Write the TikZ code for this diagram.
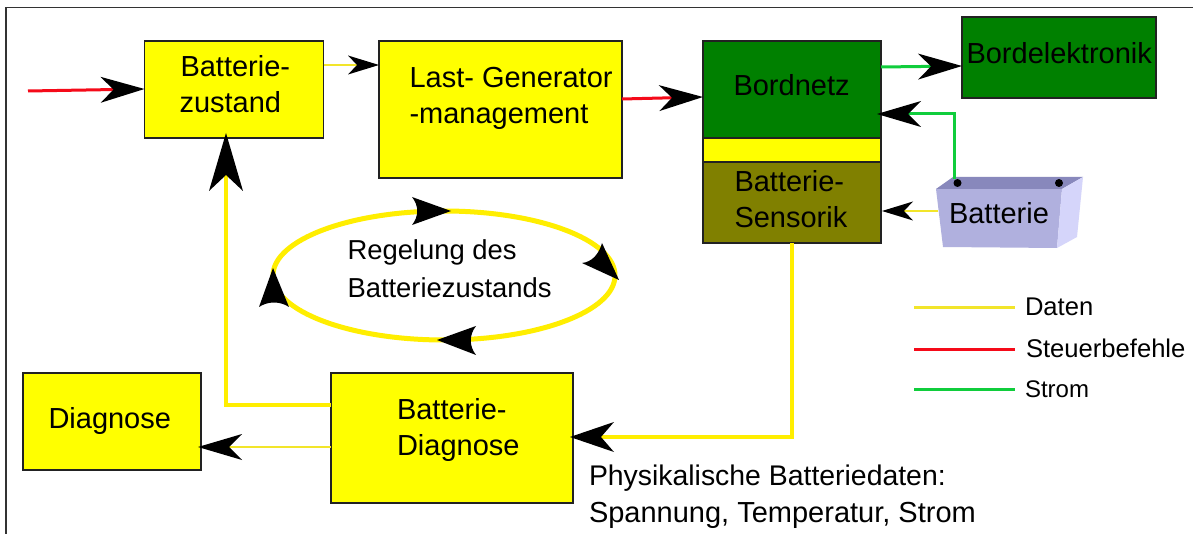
\documentclass[tikz,border=0pt]{standalone}
\usepackage{fontspec}
\setmainfont{Liberation Sans}
\usetikzlibrary{arrows.meta}
\definecolor{boxline}{RGB}{34,34,34}
\definecolor{boxyellow}{RGB}{255,255,0}
\definecolor{boxgreen}{RGB}{0,128,0}
\definecolor{boxolive}{RGB}{128,128,0}
\definecolor{dyellow}{RGB}{242,229,42}
\definecolor{syellow}{RGB}{255,238,0}
\definecolor{lred}{RGB}{245,10,25}
\definecolor{lgreen}{RGB}{16,205,60}
\definecolor{batfront}{RGB}{176,176,222}
\definecolor{battop}{RGB}{136,136,188}
\definecolor{batside}{RGB}{213,213,250}
\tikzset{
  x=1pt,y=-1pt,
  box/.style={draw=boxline,line width=1.4pt,inner sep=0pt,outer sep=0pt,anchor=north west},
  yellowbox/.style={box,fill=boxyellow},
  greenbox/.style={box,fill=boxgreen},
  olivebox/.style={box,fill=boxolive},
  txt/.style={anchor=base west,inner sep=0pt,outer sep=0pt,text=black,font=\fontsize{29}{29}\selectfont},
  midtxt/.style={txt,font=\fontsize{27.4}{27.4}\selectfont},
  smalltxt/.style={txt,font=\fontsize{25.6}{25.6}\selectfont},
  tiphuge/.tip={Stealth[length=58pt,width=34pt,inset=16pt,color=black,line width=0pt]},
  tipbig/.tip={Stealth[length=44pt,width=26pt,inset=13pt,color=black,line width=0pt]},
  tipsmall/.tip={Stealth[length=31pt,width=19pt,inset=9pt,color=black,line width=0pt]},
  datathin/.style={draw=dyellow,line width=2.3pt},
  datathick/.style={draw=syellow,line width=3.8pt},
  redline/.style={draw=lred,line width=3pt},
  greenline/.style={draw=lgreen,line width=3pt},
  loophead/.style={fill=black,draw=none},
}
\begin{document}
\begin{tikzpicture}
\useasboundingbox (0,0) rectangle (1193,534);
\fill[white] (0,0) rectangle (1193,534);
\draw[draw=black!80,line width=1.4pt] (6,534) -- (6,7.5) -- (1193,7.5);

% boxes
\node[yellowbox,minimum width=179pt,minimum height=97pt] (zust) at (144.5,41) {};
\node[yellowbox,minimum width=243pt,minimum height=137pt] (last) at (379,41) {};
\node[yellowbox,minimum width=178pt,minimum height=26pt] (gap) at (703,137) {};
\node[greenbox,minimum width=178pt,minimum height=97pt] (netz) at (703,41) {};
\node[olivebox,minimum width=178pt,minimum height=81pt] (sens) at (703,162) {};
\node[greenbox,minimum width=194pt,minimum height=81pt] (elek) at (962,17) {};
\node[yellowbox,minimum width=178pt,minimum height=97pt] (diag) at (23,373) {};
\node[yellowbox,minimum width=242pt,minimum height=130pt] (bdiag) at (331,373) {};

% battery
\fill[batfront] (936,189) -- (1062,189) -- (1057,248) -- (943,247) -- cycle;
\fill[battop] (936,189) -- (953,177) -- (1083,177) -- (1062,189) -- cycle;
\fill[batside] (1062,189) -- (1083,177) -- (1077,237) -- (1057,248) -- cycle;
\node[circle,fill=black,minimum size=8pt,inner sep=0pt] (plus) at (957.5,183) {};
\node[circle,fill=black,minimum size=8pt,inner sep=0pt] (minus) at (1059,183) {};
\coordinate (batleft) at (938,211);

% connectors
\coordinate (redstart) at (28,91);
\draw[redline,-{tipbig}] (redstart) -- (zust.west |- 0,89);
\draw[datathin,-{tipsmall}] (zust.east |- 0,65) -- (last.west |- 0,65);
\draw[redline,-{tipbig}] (last.east |- 0,99) -- (netz.west |- 0,97);
\draw[greenline,-{tipbig}] (netz.east |- 0,67) -- (elek.west |- 0,66);
\draw[greenline,-{tipbig}] (954.5,179) -- (954.5,114) -- ([xshift=-4pt]netz.east |- 0,114);
\draw[datathin,-{tipsmall}] (batleft) -- ([xshift=1pt]sens.east |- batleft);
\draw[datathick,-{tipbig[width=30pt]}] (sens.south) -- (sens.south |- 0,437) -- ([xshift=-3pt]bdiag.east |- 0,437);
\draw[datathick,-{tiphuge}] (bdiag.west |- 0,405) -- (226,405) -- (226,133);
\draw[datathin,line width=2.8pt,-{tipbig}] (bdiag.west |- 0,447) -- ([xshift=-3pt]diag.east |- 0,447);

% control loop
\draw[draw=syellow,line width=5pt] (444,275.5) ellipse [x radius=171, y radius=64.5];
\fill[loophead] (451,211) -- (412,197) .. controls (419,206) and (419,216) .. (412,225) -- cycle;
\fill[loophead] (619,280) -- (582,263) .. controls (592,262) and (599,254) .. (602,243) -- cycle;
\fill[loophead] (437,340) -- (476,326) .. controls (469,335) and (469,346) .. (476,355) -- cycle;
\fill[loophead] (273,268) -- (259,307) .. controls (268,301) and (280,301) .. (289,307) -- cycle;

% texts
\node[txt] (t1) at (180.5,76.5) {Batterie-};
\node[txt] (t2) at (179.5,112.5) {zustand};
\node[txt] (t3) at (409.5,87.5) {Last- Generator};
\node[txt] (t4) at (409.5,123.5) {-management};
\node[txt] (t5) at (733.5,95.5) {Bordnetz};
\node[txt] (t6) at (966.5,63.5) {Bordelektronik};
\node[txt] (t7) at (734.5,191.5) {Batterie-};
\node[txt] (t8) at (734.5,227.5) {Sensorik};
\node[txt] (t9) at (949,223.5) {Batterie};
\node[midtxt] (t10) at (347.5,259.5) {Regelung des};
\node[midtxt] (t11) at (347.5,297.5) {Batteriezustands};
\node[txt] (t12) at (48.5,428.5) {Diagnose};
\node[txt] (t13) at (397,419.5) {Batterie-};
\node[txt] (t14) at (397,455.5) {Diagnose};
\node[txt,font=\fontsize{28.4}{28.4}\selectfont] (t15) at (589,485) {Physikalische Batteriedaten:};
\node[txt] (t16) at (589,522.5) {Spannung, Temperatur, Strom};

% legend
\coordinate (l1a) at (914,308); \coordinate (l1b) at (1015,308);
\coordinate (l2a) at (914,349); \coordinate (l2b) at (1015,349);
\coordinate (l3a) at (914,389); \coordinate (l3b) at (1015,389);
\draw[datathin,line width=3pt] (l1a) -- (l1b);
\draw[redline] (l2a) -- (l2b);
\draw[greenline] (l3a) -- (l3b);
\node[smalltxt] (d) at (1025,316) {Daten};
\node[smalltxt] (s) at (1026,357) {Steuerbefehle};
\node[smalltxt,font=\fontsize{24}{24}\selectfont] (st) at (1025,397) {Strom};
\end{tikzpicture}
\end{document}
